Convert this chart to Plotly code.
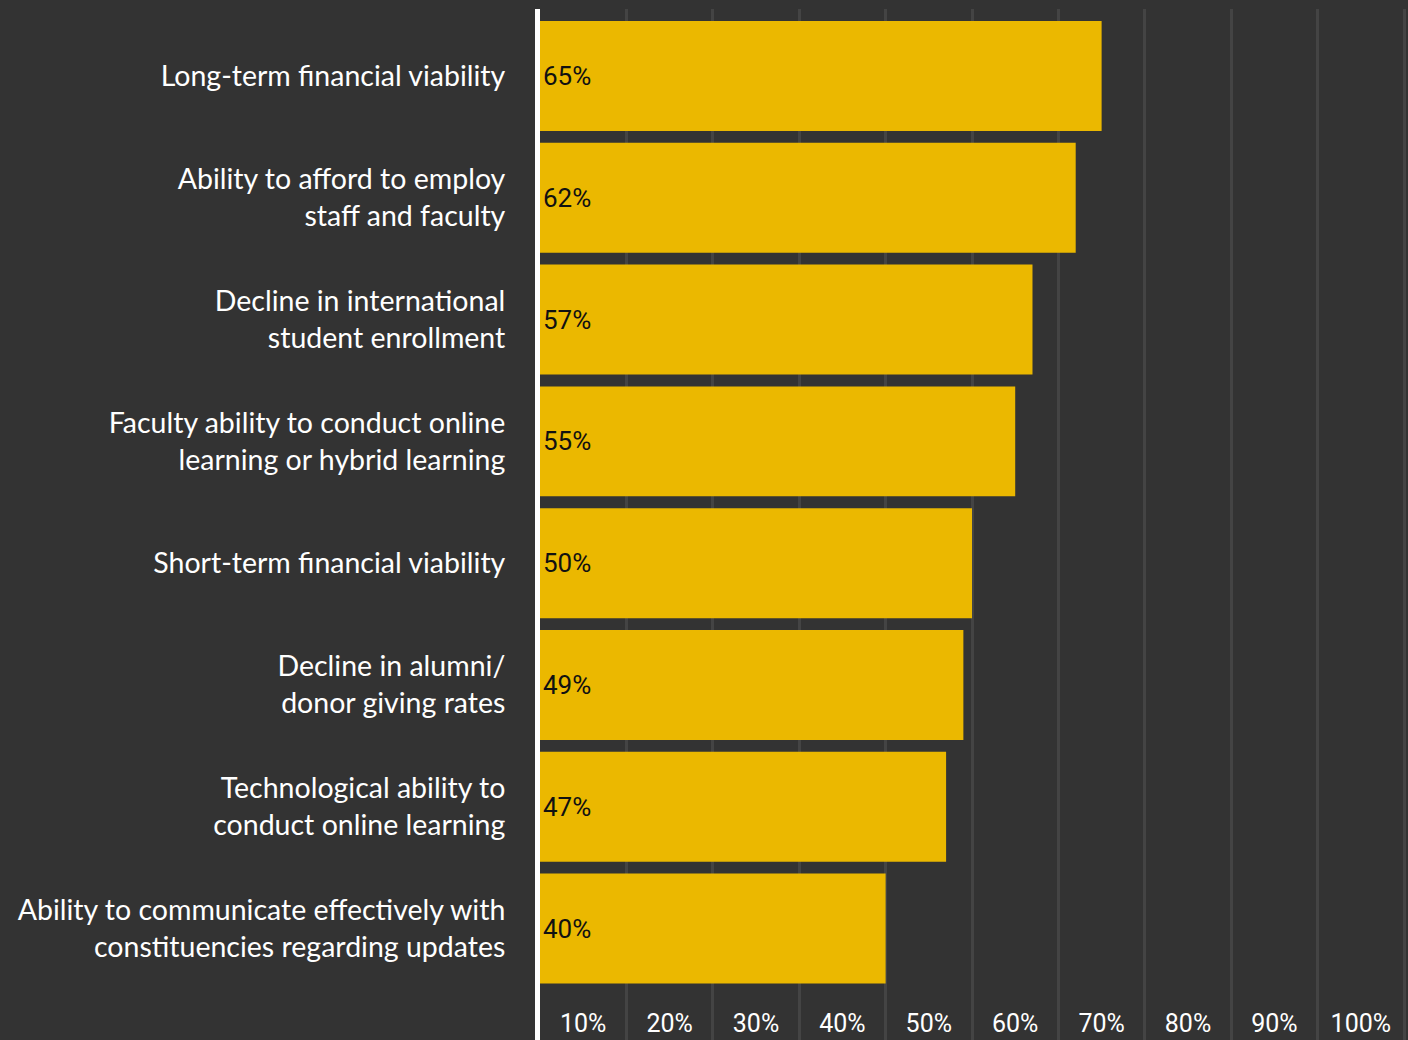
import plotly.graph_objects as go

categories = [
    "Long-term financial viability",
    "Ability to afford to employ<br>staff and faculty",
    "Decline in international<br>student enrollment",
    "Faculty ability to conduct online<br>learning or hybrid learning",
    "Short-term financial viability",
    "Decline in alumni/<br>donor giving rates",
    "Technological ability to<br>conduct online learning",
    "Ability to communicate effectively with<br>constituencies regarding updates",
]
values = [65, 62, 57, 55, 50, 49, 47, 40]
grid_vals = [10, 20, 30, 40, 50, 60, 70, 80, 90, 100]
tick_pos = [5, 15, 25, 35, 45, 55, 65, 75, 85, 95]
tick_text = ["10%", "20%", "30%", "40%", "50%", "60%", "70%", "80%", "90%", "100%"]

BG = "#333333"
BAR = "#EBB800"
GRID = "#444444"

fig = go.Figure()
fig.add_trace(go.Bar(
    y=categories, x=values, orientation="h",
    marker=dict(color=BAR, line=dict(width=0)),
    text=[f"{v}%" for v in values],
    textposition="inside", insidetextanchor="start",
    textfont=dict(family="Roboto", size=26, color="#111111"),
    cliponaxis=False,
    xaxis="x", yaxis="y",
))
# invisible trace to activate gridline axis
fig.add_trace(go.Scatter(x=[0], y=[categories[0]], mode="markers",
                         marker=dict(opacity=0), xaxis="x2", yaxis="y",
                         hoverinfo="skip", showlegend=False))

xr = [0, 100.46]
fig.update_layout(
    width=1408, height=1040,
    paper_bgcolor=BG, plot_bgcolor=BG,
    margin=dict(l=540, r=0, t=9, b=0),
    bargap=0.097,
    showlegend=False,
    xaxis=dict(range=xr, tickvals=tick_pos, ticktext=tick_text,
               ticklabelposition="inside", showgrid=False, zeroline=False,
               showline=False, ticks="",
               tickfont=dict(family="Roboto", size=25, color="white")),
    xaxis2=dict(range=xr, overlaying="x", anchor="y", side="top",
                tickvals=grid_vals, showticklabels=False, showgrid=True,
                gridcolor=GRID, gridwidth=3, zeroline=False, showline=False,
                ticks=""),
    yaxis=dict(range=[7.915, -0.55], showgrid=False, zeroline=False,
               showline=True, linecolor="white", linewidth=5,
               ticks="", ticklabelstandoff=24,
               tickfont=dict(family="Lato", size=28.5, color="white")),
)

fig.write_html("out.html",
               config={"displayModeBar": False},
               post_script="document.body.style.margin='0';document.body.style.background='#333333';")
